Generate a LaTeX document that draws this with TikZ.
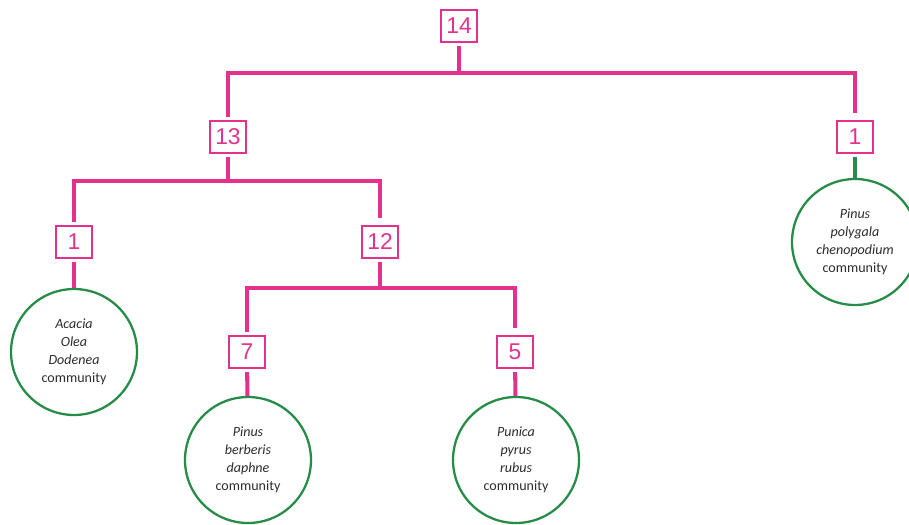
\documentclass[tikz,border=0pt]{standalone}
\usepackage{fontspec}
\setmainfont{Carlito}
\newfontfamily\numfont{Liberation Sans}
\definecolor{rose}{RGB}{228,50,140}
\definecolor{vert}{RGB}{38,140,72}
\definecolor{encre}{RGB}{45,45,45}

\begin{document}
\begin{tikzpicture}[x=0.02cm, y=-0.02cm,
	boite/.style={draw=rose, line width=1.1pt, minimum width=21pt, minimum height=18pt, inner sep=1pt, outer sep=2.5pt, text=rose, font=\numfont\fontsize{13}{13}\selectfont},
	cercle/.style={circle, draw=vert, line width=1.3pt, minimum size=2.52cm, inner sep=0pt, align=center, text=encre, font=\fontsize{8}{10.3}\selectfont},
	branche/.style={draw=rose, line width=2.3pt, shorten >=2pt}]
	\useasboundingbox (0,0) rectangle (909,524);
	% Effectifs
	\node[boite] (n14) at (459,26) {14};
	\node[boite] (n13) at (228,137) {13};
	\node[boite] (n1b) at (855,137) {1};
	\node[boite] (n1a) at (74,242) {1};
	\node[boite] (n12) at (380,242) {12};
	\node[boite] (n7) at (247,352) {7};
	\node[boite] (n5) at (515,352) {5};
	% Communautes
	\node[cercle] (acacia) at (74,352) {\textit{Acacia}\\ \textit{Olea}\\ \textit{Dodenea}\\ community};
	\node[cercle] (berberis) at (248,460) {\textit{Pinus}\\ \textit{berberis}\\ \textit{daphne}\\ community};
	\node[cercle] (punica) at (516,460) {\textit{Punica}\\ \textit{pyrus}\\ \textit{rubus}\\ community};
	\node[cercle] (polygala) at (855,242) {\textit{Pinus}\\ \textit{polygala}\\ \textit{chenopodium}\\ community};
	% Embranchements
	\coordinate (j14) at (459,73);
	\coordinate (j13) at (228,181);
	\coordinate (j12) at (380,288);
	\draw[branche, shorten >=0pt] (n14) -- (j14);
	\draw[branche] (n13.north) |- (j14) -| (n1b.north);
	\draw[branche, shorten >=0pt] (n13) -- (j13);
	\draw[branche] (n1a.north) |- (j13) -| (n12.north);
	\draw[branche, shorten >=0pt] (n12) -- (j12);
	\draw[branche] (n7.north) |- (j12) -| (n5.north);
	% Feuilles
	\draw[branche, shorten >=0pt] (n1a) -- (acacia);
	\draw[branche, shorten >=0pt] (n7) -- (berberis);
	\draw[branche, shorten >=0pt] (n5) -- (punica);
	\draw[branche, draw=vert, shorten >=0pt] (n1b) -- (polygala);
\end{tikzpicture}
\end{document}
